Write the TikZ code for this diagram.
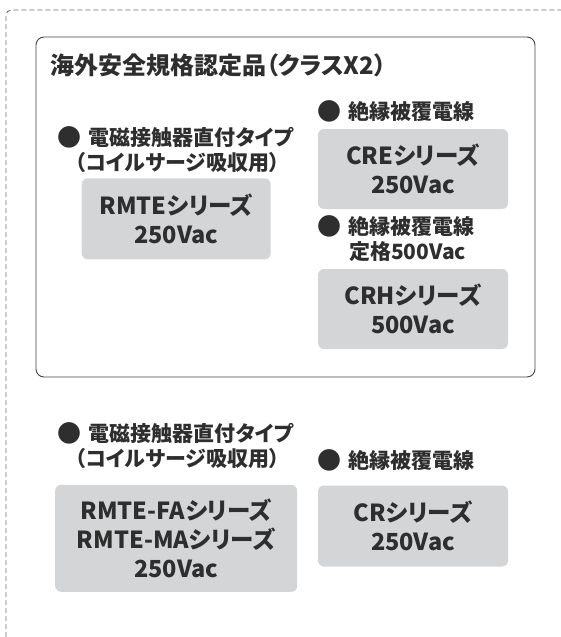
\documentclass[tikz,border=0pt]{standalone}
\usepackage{fontspec}
\setmainfont{Noto Sans CJK JP}[RawFeature=+palt]
\usetikzlibrary{positioning}
\definecolor{inkgray}{HTML}{2E2E2E}
\definecolor{boxgray}{HTML}{D4D5D7}
\definecolor{framegray}{HTML}{444444}
\definecolor{dashgray}{HTML}{6E6E6E}

\newcommand{\bul}{\raisebox{-1pt}{\fontsize{24}{24}\selectfont ●}\hspace{7.5pt}}

\tikzset{
  series/.style={fill=boxgray, rounded corners=6pt, align=center, text=inkgray,
    font=\fontsize{23.5}{29}\selectfont\bfseries, inner sep=0pt},
  bullet/.style={anchor=west, text=inkgray, inner sep=0pt,
    font=\fontsize{21}{26}\selectfont\bfseries},
}

\begin{document}
\begin{tikzpicture}[x=1pt, y=-1pt]

\useasboundingbox (0,0) rectangle (561,637);

% Outer dashed frame (open to the right and bottom)
\draw[dashgray, line width=0.9pt, dash pattern=on 5pt off 3pt, rounded corners=5pt]
  (6,637) -- (6,10) -- (561,10);

% Approved group frame
\draw[framegray, line width=0.9pt, rounded corners=8pt] (36,37) rectangle (535,377);

% Title
\node[anchor=west, inner sep=0pt, text=inkgray, font=\fontsize{24}{28}\selectfont\bfseries]
  (title) at (50,65) {海外安全規格認定品（クラスX2）};

% Left column, inside the frame
\node[bullet] (mcA) at (57,137) {\bul 電磁接触器直付タイプ};
\node[bullet] (mcAsub) at (75,163) {（コイルサージ吸収用）};
\node[series, minimum width=189pt, minimum height=81pt] (rmte) at (176.2,218.8)
  {RMTEシリーズ\\250Vac};

% Right column, inside the frame
\node[bullet] (wireA) at (317,111) {\bul 絶縁被覆電線};
\node[series, minimum width=190pt, minimum height=80pt] (cre) at (413,169)
  {CREシリーズ\\250Vac};
\node[bullet] (wireB) at (317,226) {\bul 絶縁被覆電線};
\node[bullet] (wireBsub) at (349,252) {定格500Vac};
\node[series, minimum width=190pt, minimum height=80pt] (crh) at (413,309)
  {CRHシリーズ\\500Vac};

% Below the frame
\node[bullet] (mcB) at (57,433) {\bul 電磁接触器直付タイプ};
\node[bullet] (mcBsub) at (75,459) {（コイルサージ吸収用）};
\node[series, minimum width=242pt, minimum height=107pt] (rmtefa) at (176.2,538.3)
  {RMTE-FAシリーズ\\RMTE-MAシリーズ\\250Vac};

\node[bullet] (wireC) at (317,460) {\bul 絶縁被覆電線};
\node[series, minimum width=190pt, minimum height=81pt] (cr) at (413,526)
  {CRシリーズ\\250Vac};

\end{tikzpicture}
\end{document}
